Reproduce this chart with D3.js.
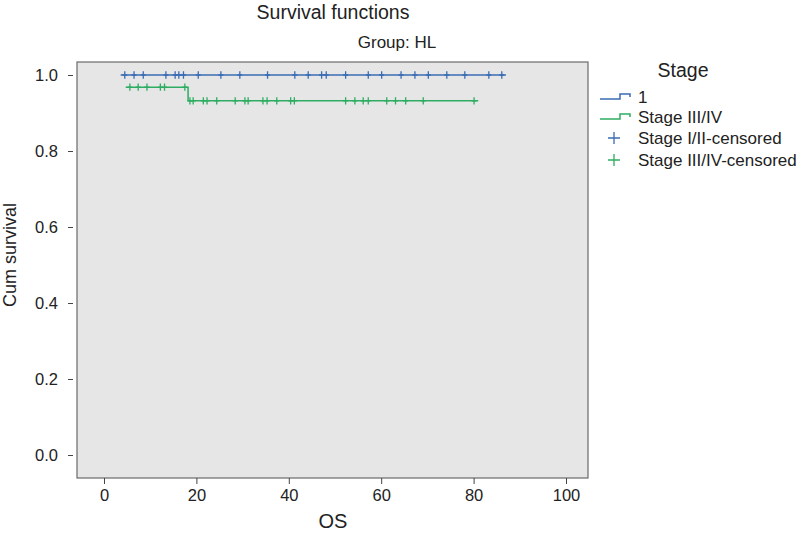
<!DOCTYPE html>
<html><head><meta charset="utf-8">
<script src="https://cdn.jsdelivr.net/npm/d3@7"></script>
<style>body{margin:0;background:#fff;}svg{display:block;font-family:"Liberation Sans",Arial,sans-serif;}</style>
</head><body>
<svg id="chart" width="800" height="537"></svg>
<script>
// ---- data ----
const xTicks = [0, 20, 40, 60, 80, 100];
const yTicks = [0.0, 0.2, 0.4, 0.6, 0.8, 1.0];
const seriesNames = ["1", "Stage III/IV"];
const censorNames = ["Stage I/II-censored", "Stage III/IV-censored"];
// step curves: time, cumulative survival
const blueStepTimes = [3.6, 87.0];
const blueStepSurv = [1.0, 1.0];
const greenStepTimes = [4.7, 18.2, 81.0];
const greenStepSurv = [0.968, 0.932, 0.932];
// censored times
const blueCensorTimes = [4.5, 6.5, 8.5, 13.4, 15.4, 16.2, 17.2, 20.4, 25.3, 29.4, 35.4, 41.3, 44.2, 47.1, 48.1, 52.3, 57.2, 60.1, 64.3, 67.3, 70.2, 74.2, 78.1, 83.3, 86.1];
const blueCensorSurv = blueCensorTimes.map(() => 1.0);
const greenCensorTimes = [5.6, 7.4, 9.3, 12.2, 13.1, 17.5, 18.6, 19.3, 21.5, 22.3, 24.4, 28.4, 30.5, 31.2, 34.4, 35.3, 37.4, 40.4, 41.2, 52.3, 54.3, 56.1, 57.2, 61.2, 63.1, 65.3, 69.1, 80.1];
const greenCensorSurv = [0.968, 0.968, 0.968, 0.968, 0.968, 0.968, 0.932, 0.932, 0.932, 0.932, 0.932, 0.932, 0.932, 0.932, 0.932, 0.932, 0.932, 0.932, 0.932, 0.932, 0.932, 0.932, 0.932, 0.932, 0.932, 0.932, 0.932, 0.932];

// ---- layout ----
const colors = ["#3a6cb4", "#2ead62"];
const svg = d3.select("#chart");
const plot = {left: 77, right: 588, top: 62, bottom: 478};
const x = d3.scaleLinear().domain([0, 100]).range([104, 566]);
const y = d3.scaleLinear().domain([0, 1]).range([455, 75]);

svg.append("rect").attr("x", plot.left).attr("y", plot.top)
  .attr("width", plot.right - plot.left).attr("height", plot.bottom - plot.top)
  .attr("fill", "#e6e6e6").attr("stroke", "#6a6a6a").attr("stroke-width", 1.2);

// axes
const xAxis = svg.append("g").attr("transform", `translate(0,${plot.bottom})`)
  .call(d3.axisBottom(x).tickValues(xTicks).tickSize(6).tickPadding(5.5).tickFormat(d3.format("d")));
const yAxis = svg.append("g").attr("transform", `translate(${plot.left - 4},0)`)
  .call(d3.axisLeft(y).tickValues(yTicks).tickSize(5).tickPadding(10).tickFormat(d3.format(".1f")));
[xAxis, yAxis].forEach(g => {
  g.select(".domain").remove();
  g.selectAll(".tick line").attr("stroke", "#444");
  g.selectAll(".tick text").attr("fill", "#222").style("font-size", "16.5px")
    .style("font-family", "'Liberation Sans',Arial,sans-serif");
});

// titles
svg.append("text").attr("x", 333).attr("y", 19).attr("text-anchor", "middle")
  .style("font-size", "19.5px").attr("fill", "#222").text("Survival functions");
svg.append("text").attr("x", 397).attr("y", 48).attr("text-anchor", "middle")
  .style("font-size", "17px").attr("fill", "#222").text("Group: HL");
svg.append("text").attr("x", 333).attr("y", 528).attr("text-anchor", "middle")
  .style("font-size", "20px").attr("fill", "#222").text("OS");
svg.append("text").attr("transform", "translate(16,255) rotate(-90)").attr("text-anchor", "middle")
  .style("font-size", "18px").attr("fill", "#222").text("Cum survival");

// step curves
const line = d3.line().curve(d3.curveStepAfter).x(d => x(d[0])).y(d => y(d[1]));
[[blueStepTimes, blueStepSurv], [greenStepTimes, greenStepSurv]].forEach((s, i) => {
  const pts = s[0].map((t, j) => [t, s[1][j]]);
  svg.append("path").attr("d", line(pts)).attr("fill", "none")
    .attr("stroke", colors[i]).attr("stroke-width", 1.5);
});

// censor marks
const plus = (cx, cy, h, v) => `M${cx - h},${cy}H${cx + h}M${cx},${cy - v}V${cy + v}`;
[[blueCensorTimes, blueCensorSurv], [greenCensorTimes, greenCensorSurv]].forEach((s, i) => {
  svg.append("g").selectAll("path").data(s[0]).join("path")
    .attr("d", (t, j) => plus(x(t), y(s[1][j]), 2.5, 3.7))
    .attr("stroke", colors[i]).attr("stroke-width", 1.3).attr("fill", "none");
});

// legend
svg.append("text").attr("x", 683).attr("y", 77).attr("text-anchor", "middle")
  .style("font-size", "19.5px").attr("fill", "#222").text("Stage");
const legY = [97, 117, 138, 160];
seriesNames.forEach((n, i) => {
  const yy = legY[i];
  svg.append("path").attr("d", `M600,${yy + 2}H620V${yy - 3}H630V${yy}`)
    .attr("fill", "none").attr("stroke", colors[i]).attr("stroke-width", 1.5);
  svg.append("text").attr("x", 638).attr("y", yy + 6).style("font-size", "17px")
    .attr("fill", "#222").text(n);
});
censorNames.forEach((n, i) => {
  const yy = legY[i + 2];
  svg.append("path").attr("d", plus(614, yy, 6, 6))
    .attr("fill", "none").attr("stroke", colors[i]).attr("stroke-width", 1.3);
  svg.append("text").attr("x", 638).attr("y", yy + 6).style("font-size", "17px")
    .attr("fill", "#222").text(n);
});
</script>
</body></html>
